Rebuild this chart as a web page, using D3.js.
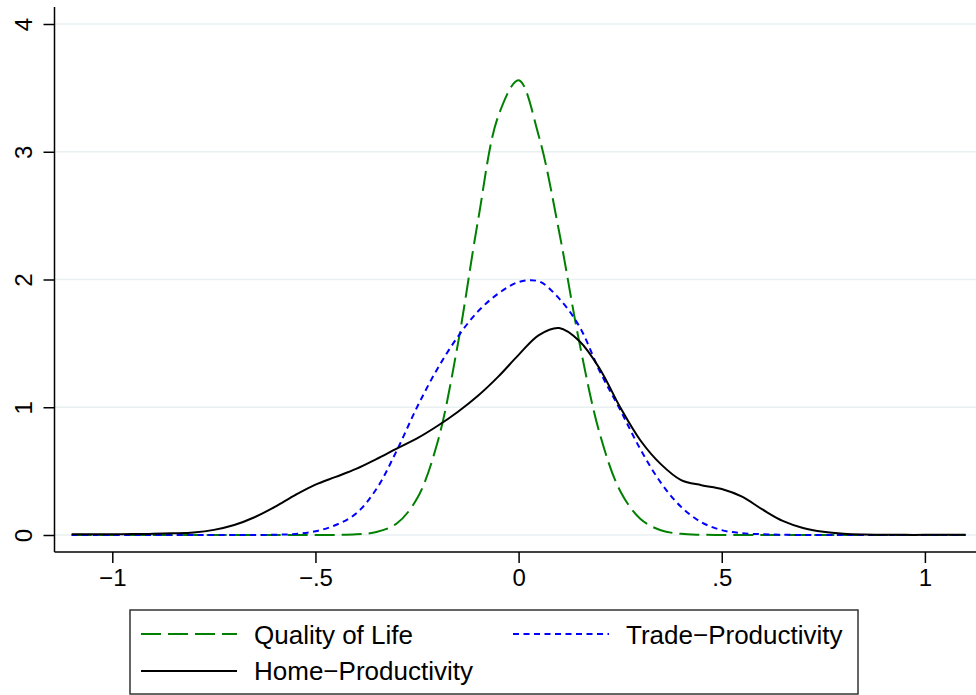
<!DOCTYPE html>
<html>
<head>
<meta charset="utf-8">
<script src="https://cdn.jsdelivr.net/npm/d3@7"></script>
<style>
  body { margin: 0; background: #fff; }
  svg { display: block; font-family: "Liberation Sans", Arial, sans-serif; }
</style>
</head>
<body>
<div id="chart"></div>
<script>
// evaluation grid, -1.1 to 1.1 in steps of .05
const xGrid = [-1.1, -1.05, -1, -0.95, -0.9, -0.85, -0.8, -0.75, -0.7, -0.65, -0.6, -0.55, -0.5, -0.45, -0.4, -0.35, -0.3, -0.25, -0.2, -0.15, -0.1, -0.05,
  0, 0.05, 0.1, 0.15, 0.2, 0.25, 0.3, 0.35, 0.4, 0.45, 0.5, 0.55, 0.6, 0.65, 0.7, 0.75, 0.8, 0.85, 0.9, 0.95, 1, 1.05, 1.1];

const qualityOfLife = [0, 0, 0, 0, 0, 0, 0, 0, 0, 0, 0, 0, 0, 0.001, 0.005, 0.023, 0.09, 0.285, 0.72, 1.485, 2.46, 3.28,
  3.56, 3.12, 2.37, 1.5, 0.79, 0.345, 0.125, 0.037, 0.009, 0.002, 0, 0, 0, 0, 0, 0, 0, 0, 0, 0, 0, 0, 0];

const tradeProductivity = [0, 0, 0, 0, 0, 0, 0, 0, 0, 0, 0.002, 0.008, 0.029, 0.078, 0.168, 0.36, 0.66, 1.0, 1.3, 1.55, 1.75, 1.89,
  1.98, 1.985, 1.85, 1.63, 1.28, 0.98, 0.67, 0.41, 0.22, 0.1, 0.038, 0.014, 0.006, 0.002, 0, 0, 0, 0, 0, 0, 0, 0, 0];

const homeProductivity = [0.005, 0.005, 0.006, 0.007, 0.009, 0.013, 0.02, 0.04, 0.078, 0.139, 0.22, 0.312, 0.394, 0.455, 0.517, 0.594, 0.676, 0.756, 0.853, 0.963, 1.09, 1.24,
  1.41, 1.565, 1.62, 1.517, 1.3, 1.0, 0.74, 0.555, 0.43, 0.39, 0.36, 0.3, 0.2, 0.11, 0.055, 0.025, 0.01, 0.004, 0.002, 0.001, 0.001, 0.001, 0.001];

const xTicks = [-1, -0.5, 0, 0.5, 1];
const xTickLabels = ["\u22121", "\u2212.5", "0", ".5", "1"];
const yTicks = [0, 1, 2, 3, 4];

const series = [
  { name: "Quality of Life", values: qualityOfLife, color: "#008000", dash: "20,7" },
  { name: "Trade\u2212Productivity", values: tradeProductivity, color: "#0000ff", dash: "6,4.5" },
  { name: "Home\u2212Productivity", values: homeProductivity, color: "#000000", dash: null }
];

const width = 976, height = 695;

const svg = d3.select("#chart").append("svg")
  .attr("width", width)
  .attr("height", height);

const x = d3.scaleLinear().domain([-1, 1]).range([112.3, 924.9]);
const y = d3.scaleLinear().domain([0, 4]).range([535, 24]);

const axisX = 54.5, axisY = 552;

// grid lines
svg.append("g").selectAll("line")
  .data(yTicks)
  .join("line")
  .attr("x1", axisX).attr("x2", width)
  .attr("y1", d => y(d)).attr("y2", d => y(d))
  .attr("stroke", "#e9f0f2")
  .attr("stroke-width", 1.6);

// y axis
const yAxis = svg.append("g")
  .attr("transform", `translate(${axisX},0)`)
  .call(d3.axisLeft(y).tickValues(yTicks).tickSize(11).tickFormat(d3.format("d")));
yAxis.select(".domain").attr("d", `M0,7V${axisY}`).attr("stroke-width", 1.5);
yAxis.selectAll(".tick line").attr("stroke-width", 1.5);
yAxis.selectAll(".tick text")
  .attr("font-size", 24)
  .attr("font-family", "Liberation Sans, Arial, sans-serif")
  .attr("fill", "#000")
  .attr("x", null).attr("dy", null)
  .attr("text-anchor", "middle")
  .attr("transform", "translate(-22.5,0) rotate(-90)");

// x axis
const xAxis = svg.append("g")
  .attr("transform", `translate(0,${axisY})`)
  .call(d3.axisBottom(x).tickValues(xTicks).tickSize(11).tickFormat((d, i) => xTickLabels[i]));
xAxis.select(".domain").attr("d", `M${axisX},0H${width}`).attr("stroke-width", 1.5);
xAxis.selectAll(".tick line").attr("stroke-width", 1.5);
xAxis.selectAll(".tick text")
  .attr("font-size", 24)
  .attr("font-family", "Liberation Sans, Arial, sans-serif")
  .attr("fill", "#000")
  .attr("dy", null)
  .attr("y", 34);

// density curves
const line = d3.line()
  .x((d, i) => x(xGrid[i]))
  .y(d => y(d))
  .curve(d3.curveCatmullRom.alpha(0.5));

svg.append("g").selectAll("path")
  .data(series)
  .join("path")
  .attr("d", d => line(d.values))
  .attr("fill", "none")
  .attr("stroke", d => d.color)
  .attr("stroke-width", 2)
  .attr("stroke-dasharray", d => d.dash);

// legend
const legend = svg.append("g");
legend.append("rect")
  .attr("x", 130).attr("y", 610)
  .attr("width", 728).attr("height", 84)
  .attr("fill", "#fff")
  .attr("stroke", "#333")
  .attr("stroke-width", 1.5);

const slots = [
  { lx: 141, ly: 634, tx: 254, ty: 644 },
  { lx: 513, ly: 634, tx: 626, ty: 644 },
  { lx: 141, ly: 671, tx: 254, ty: 680 }
];

series.forEach((s, i) => {
  const p = slots[i];
  legend.append("line")
    .attr("x1", p.lx).attr("x2", p.lx + 96)
    .attr("y1", p.ly).attr("y2", p.ly)
    .attr("stroke", s.color)
    .attr("stroke-width", 2)
    .attr("stroke-dasharray", s.dash);
  legend.append("text")
    .attr("x", p.tx).attr("y", p.ty)
    .attr("font-size", 26)
    .attr("fill", "#000")
    .text(s.name);
});
</script>
</body>
</html>
